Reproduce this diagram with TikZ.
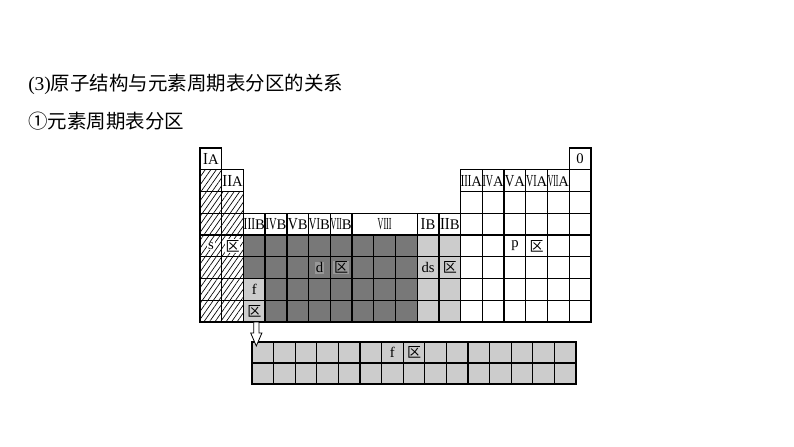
\documentclass[tikz,border=0pt]{standalone}
\usepackage{fontspec,graphicx}
\setmainfont{Liberation Serif}
\newfontfamily\cjk{Noto Sans CJK SC}
\usetikzlibrary{patterns.meta}
\definecolor{dgray}{RGB}{120,120,120}
\definecolor{mgray}{RGB}{152,152,152}
\definecolor{lgray}{RGB}{204,204,204}
\tikzstyle{cell}=[draw=black,line width=1pt]
\tikzstyle{dcell}=[cell,fill=dgray]
\tikzstyle{lcell}=[cell,fill=lgray]
\tikzstyle{hcell}=[cell,pattern={Lines[angle=55,distance=3.4pt,line width=0.5pt]}]
\tikzstyle{lab}=[inner sep=0.6pt,font=\fontsize{11}{13}\selectfont]
\tikzstyle{qu}=[inner sep=0.6pt,font=\cjk\fontsize{10.5}{13}\selectfont]
\tikzstyle{head}=[anchor=west,inner sep=0pt,font=\cjk\fontsize{14.6}{17}\selectfont]
\tikzstyle{arrowbox}=[draw=black,line width=0.6pt,fill=white]
\newcommand{\rmn}[2][1]{\scalebox{#1}[1.15]{#2}}

\begin{document}
\begin{tikzpicture}[x=0.75pt,y=-0.75pt,
  declare function={cx(\x)=200+(\x-1)*21.72; ry(\x)=148+\x*21.75;
    mx(\x)=cx(\x)+10.86; my(\x)=ry(\x)+10.875; fx(\x)=252+(\x-1)*21.6;}]
\fill[white] (0,0) rectangle (794,447);
\useasboundingbox (0,0) rectangle (794,447);

\node[head] (title) at (28,84) {{\rmfamily(3)}原子结构与元素周期表分区的关系};
\node[head] (sub) at (28,121) {①元素周期表分区};

% s block
\foreach \k in {1,...,7} \draw[hcell] ({cx(1)},{ry(\k)}) rectangle ++(21.72,21.75);
\foreach \k in {2,...,7} \draw[hcell] ({cx(2)},{ry(\k)}) rectangle ++(21.72,21.75);
\draw[cell] ({cx(1)},{ry(0)}) rectangle ++(21.72,21.75);
\draw[cell] ({cx(2)},{ry(1)}) rectangle ++(21.72,21.75);

% d and ds block
\foreach \i in {3,...,7,11,12} \draw[cell] ({cx(\i)},{ry(3)}) rectangle ++(21.72,21.75);
\draw[cell] ({cx(8)},{ry(3)}) rectangle ({cx(11)},{ry(4)});
\foreach \i in {4,...,10} \foreach \k in {4,...,7} \draw[dcell] ({cx(\i)},{ry(\k)}) rectangle ++(21.72,21.75);
\foreach \k in {4,5} \draw[dcell] ({cx(3)},{ry(\k)}) rectangle ++(21.72,21.75);
\foreach \k in {6,7} \draw[lcell] ({cx(3)},{ry(\k)}) rectangle ++(21.72,21.75);
\foreach \i in {11,12} \foreach \k in {4,...,7} \draw[lcell] ({cx(\i)},{ry(\k)}) rectangle ++(21.72,21.75);

% p block
\foreach \i in {13,...,17} \foreach \k in {1,...,7} \draw[cell] ({cx(\i)},{ry(\k)}) rectangle ++(21.72,21.75);
\foreach \k in {0,...,7} \draw[cell] ({cx(18)},{ry(\k)}) rectangle ++(21.72,21.75);

% f block
\foreach \i in {1,...,15} \foreach \r in {342,363} \draw[lcell] ({fx(\i)},\r) rectangle ++(21.6,21);

% group names
\node[lab] (IA) at ({mx(1)},{my(0)}) {\rmn{I}A};
\node[lab] (IIA) at ({mx(2)},{my(1)}) {\rmn{II}A};
\node[lab] (IIIB) at ({mx(3)},{my(3)}) {\rmn[0.78]{III}B};
\node[lab] (IVB) at ({mx(4)},{my(3)}) {\rmn[0.72]{IV}B};
\node[lab] (VB) at ({mx(5)},{my(3)}) {\rmn[0.95]{V}B};
\node[lab] (VIB) at ({mx(6)},{my(3)}) {\rmn[0.72]{VI}B};
\node[lab] (VIIB) at ({mx(7)},{my(3)}) {\rmn[0.55]{VII}B};
\node[lab] (VIII) at ({mx(9)},{my(3)}) {\rmn[0.55]{VIII}};
\node[lab] (IB) at ({mx(11)},{my(3)}) {\rmn{I}B};
\node[lab] (IIB) at ({mx(12)},{my(3)}) {\rmn{II}B};
\node[lab] (IIIA) at ({mx(13)},{my(1)}) {\rmn[0.72]{III}A};
\node[lab] (IVA) at ({mx(14)},{my(1)}) {\rmn[0.68]{IV}A};
\node[lab] (VA) at ({mx(15)},{my(1)}) {\rmn[0.9]{V}A};
\node[lab] (VIA) at ({mx(16)},{my(1)}) {\rmn[0.68]{VI}A};
\node[lab] (VIIA) at ({mx(17)},{my(1)}) {\rmn[0.52]{VII}A};
\node[lab] (zero) at ({mx(18)},{my(0)}) {0};

% block names
\node[lab,fill=white] (s) at ({mx(1)},{my(4)}) {s};
\node[qu,fill=white] (squ) at ({mx(2)},{my(4)}) {区};
\node[lab,fill=mgray] (d) at ({mx(6)},{my(5)}) {d};
\node[qu,fill=mgray] (dqu) at ({mx(7)},{my(5)}) {区};
\node[lab] (ds) at ({mx(11)},{my(5)}) {ds};
\node[qu] (dsqu) at ({mx(12)},{my(5)}) {区};
\node[lab] (p) at ({mx(15)},{my(4)}) {p};
\node[qu] (pqu) at ({mx(16)},{my(4)}) {区};
\node[lab] (f) at ({mx(3)},{my(6)}) {f};
\node[qu] (fqu) at ({mx(3)},{my(7)}) {区};
\node[lab] (flow) at ({fx(7)+10.8},352.5) {f};
\node[qu] (flowqu) at ({fx(8)+10.8},352.5) {区};

% arrow down to the f row
\coordinate (fbot) at ({mx(3)+2},{ry(8)});
\coordinate (ftop) at ({mx(3)+2},346);
\draw[arrowbox] (fbot) ++(-2.6,0) -- ++(0,11) -- ++(-3,0) -- (ftop) -- ++(5.6,-13) -- ++(-3,0) -- ++(0,-11) -- cycle;
\end{tikzpicture}
\end{document}
